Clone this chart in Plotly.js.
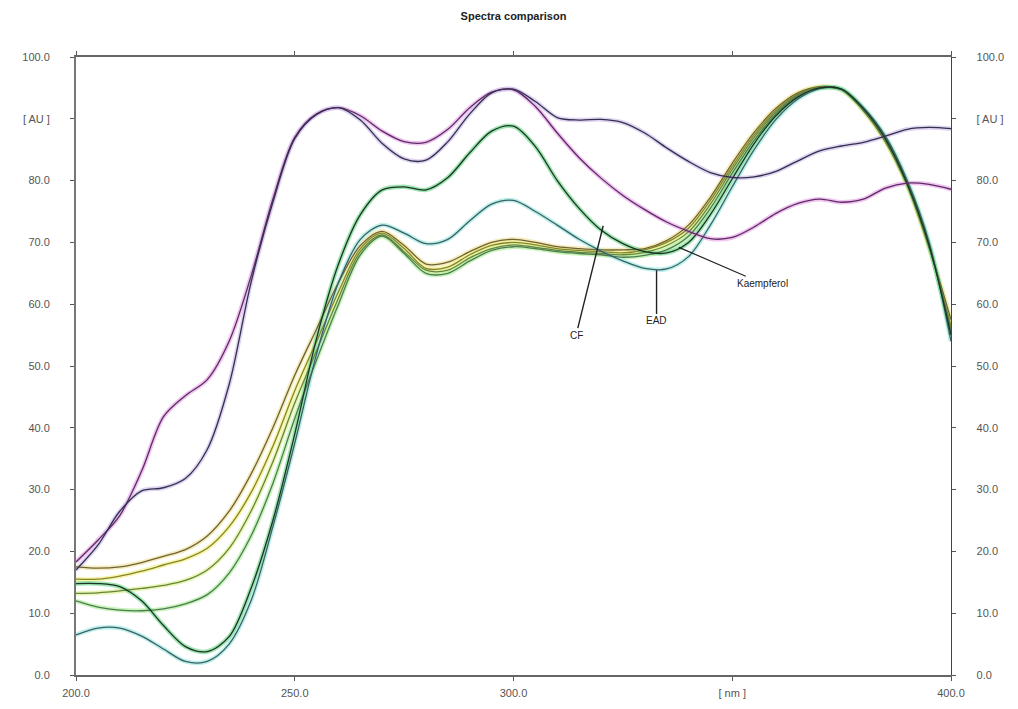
<!DOCTYPE html>
<html>
<head>
<meta charset="utf-8">
<script src="https://cdn.plot.ly/plotly-3.0.1.min.js"></script>
<style>
  html, body { margin: 0; padding: 0; background: #ffffff; }
  #chart { width: 1018px; height: 709px; }
</style>
</head>
<body>
<div id="chart"></div>
<script>
// Wavelength grid (nm)
const wavelength = [200,205,210,215,220,225,230,235,240,245,250,255,260,265,270,275,280,285,290,295,300,
                    305,310,315,320,325,330,335,340,345,350,355,360,365,370,375,380,385,390,395,400];

// Absorbance spectra [AU]
const purpleA = [18.3,21.8,25.8,33,41.8,45.2,47.8,54,64.5,77,87,90.8,91.8,90.5,88,86.3,86.2,88.3,91.8,94.3,94.7,
                 92,87.7,83.7,80.4,77.6,75.3,73.3,71.8,70.6,70.8,72.5,74.7,76.3,77,76.5,77,78.8,79.6,79.4,78.6];
const purpleB = [17,21,26.5,29.8,30.3,31.8,36.5,47,63.5,76.5,86.8,90.7,91.8,89.8,86,83.5,83.3,86.3,90.8,94.2,94.8,
                 92.8,90.2,89.8,89.9,89.4,87.7,85.3,83.1,81.3,80.5,80.6,81.5,83.2,84.8,85.6,86.2,87.2,88.3,88.6,88.4];
const cfSeries = [14.8,14.8,14.3,12,8,4.6,3.8,6.2,14,25,39,54.5,66.5,74.5,78.5,79,78.5,80.5,84.5,88,88.8,
                  85.5,80,75.5,72,69.8,68.5,68.3,70,74.5,80.3,86,90.5,93.5,95,94.8,91.6,86.8,79.5,69.5,55];
const eadSeries = [6.5,7.6,7.6,6.3,4.2,2.2,2.2,5,12,24,37.5,52,63.5,70.5,72.8,71.5,69.8,70.5,73.5,76.2,76.8,
                   75,72.8,70.5,68.6,67,65.8,65.7,67.7,72.8,79,85,89.9,93.2,94.9,94.8,91.8,87.2,80,70,54];
const yellowA = [17.5,17.3,17.5,18.2,19.2,20.3,22.5,26.5,32.5,40,48.5,56,63.5,69.5,71.8,69.5,66.5,66.8,68.5,70,70.5,
                 70,69.3,69,68.8,68.8,69,70.3,72.8,77.3,82.8,87.8,91.7,94.2,95.2,94.7,91.3,86.3,79.2,69.2,57.5];
const yellowB = [15.5,15.5,16,16.8,17.8,18.8,20.5,24,29.5,37,46,54,62,69,71.5,69,65.8,66,68,69.5,70,
                 69.6,69,68.7,68.5,68.3,68.8,70,72.3,76.8,82.3,87.4,91.4,94,95.1,94.7,91.4,86.4,79.3,69.2,56.5];
const yellowC = [13.2,13.3,13.6,14,14.5,15.3,17,20.5,26.5,34.5,44,52.5,61,68.5,71.2,68.5,65.5,65.5,67.5,69,69.6,
                 69.2,68.7,68.4,68.2,68,68.4,69.5,71.7,76.2,81.8,87,91.1,93.9,95.1,94.7,91.4,86.5,79.4,69.3,56];
const greenA  = [12,11,10.5,10.4,10.7,11.5,13,16.5,22.5,31,41.5,51,60,68,71,68.2,65,65,67,68.7,69.3,
                 69,68.5,68.2,68,67.6,67.9,68.8,71,75.5,81.2,86.5,90.8,93.7,95,94.7,91.5,86.6,79.5,69.5,55.5];

// Y-axis ticks
const yTickVals = [0,10,20,30,40,50,60,70,80,90,100];
const yTickText = ['0.0','10.0','20.0','30.0','40.0','50.0','60.0','70.0','80.0','[ AU ]','100.0'];
// X-axis ticks
const xTickVals = [200,250,300,350,400];
const xTickText = ['200.0','250.0','300.0','[ nm ]','400.0'];

// Series styling: a soft coloured halo under a thin dark core line
const series = [
  {y: yellowA,   core: '#6e6238', halo: '#f2e4a4'},
  {y: yellowB,   core: '#85852e', halo: '#f3f28c'},
  {y: yellowC,   core: '#66843e', halo: '#e2f39a'},
  {y: greenA,    core: '#4f7a52', halo: '#b4f0a4'},
  {y: eadSeries, core: '#3c5f66', halo: '#a6ece2'},
  {y: cfSeries,  core: '#1c3428', halo: '#7fdc96'},
  {y: purpleA,   core: '#5e2a66', halo: '#eab0ea'},
  {y: purpleB,   core: '#33304e', halo: '#d4c6ec'}
];

const traces = [];
series.forEach(s => {
  traces.push({x: wavelength, y: s.y, type: 'scatter', mode: 'lines', hoverinfo: 'skip',
               line: {color: s.halo, width: 4.5, shape: 'spline', smoothing: 0.9}, opacity: 0.75});
});
series.forEach(s => {
  traces.push({x: wavelength, y: s.y, type: 'scatter', mode: 'lines',
               line: {color: s.core, width: 1.3, shape: 'spline', smoothing: 0.9}});
});

const fontFamily = 'Liberation Sans, Arial, sans-serif';
const tickFont = {family: fontFamily, size: 11, color: '#555'};
const labelFont = {family: fontFamily, size: 10, color: '#222'};

const yBase = {
  range: [0, 100], tickvals: yTickVals, ticktext: yTickText,
  showline: true, showgrid: false, zeroline: false,
  ticks: 'outside', ticklen: 4, tickcolor: '#555', tickfont: tickFont,
  ticklabelstandoff: 18, fixedrange: true
};

const layout = {
  width: 1018, height: 709,
  margin: {l: 76, r: 67, t: 57, b: 34},
  paper_bgcolor: '#ffffff', plot_bgcolor: '#ffffff',
  showlegend: false,
  title: {text: '<b>Spectra comparison</b>', x: 0.5, xref: 'paper', y: 0.977, yanchor: 'middle',
          font: {family: fontFamily, size: 11, color: '#222'}},
  xaxis: {range: [200, 400], tickvals: xTickVals, ticktext: xTickText,
          showline: true, mirror: 'ticks', linecolor: '#666', linewidth: 1.6,
          showgrid: false, zeroline: false, ticks: 'outside', ticklen: 4, tickcolor: '#555',
          tickfont: tickFont, ticklabelstandoff: 3, fixedrange: true},
  yaxis: Object.assign({}, yBase, {linecolor: '#777', linewidth: 2}),
  yaxis2: Object.assign({}, yBase, {overlaying: 'y', side: 'right', anchor: 'x',
                                     linecolor: '#444', linewidth: 1.4}),
  annotations: [
    {x: 320.5, y: 72.7, ax: 314.3, ay: 55, axref: 'x', ayref: 'y', text: 'CF',
     showarrow: true, arrowhead: 0, arrowwidth: 1.4, arrowcolor: '#222', standoff: 0, font: labelFont},
    {x: 332.7, y: 65.5, ax: 332.7, ay: 57.3, axref: 'x', ayref: 'y', text: 'EAD',
     showarrow: true, arrowhead: 0, arrowwidth: 1.4, arrowcolor: '#222', standoff: 0, font: labelFont},
    {x: 337.8, y: 69.2, ax: 356.8, ay: 63.4, axref: 'x', ayref: 'y', text: 'Kaempferol',
     showarrow: true, arrowhead: 0, arrowwidth: 1.2, arrowcolor: '#222', standoff: 0, font: labelFont}
  ]
};

// Keep the right-hand axis drawn by giving it an invisible companion trace
traces.push({x: [200, 400], y: [0, 100], yaxis: 'y2', type: 'scatter', mode: 'markers',
             marker: {opacity: 0}, hoverinfo: 'skip'});

Plotly.newPlot('chart', traces, layout, {displayModeBar: false, staticPlot: true});
</script>
</body>
</html>
